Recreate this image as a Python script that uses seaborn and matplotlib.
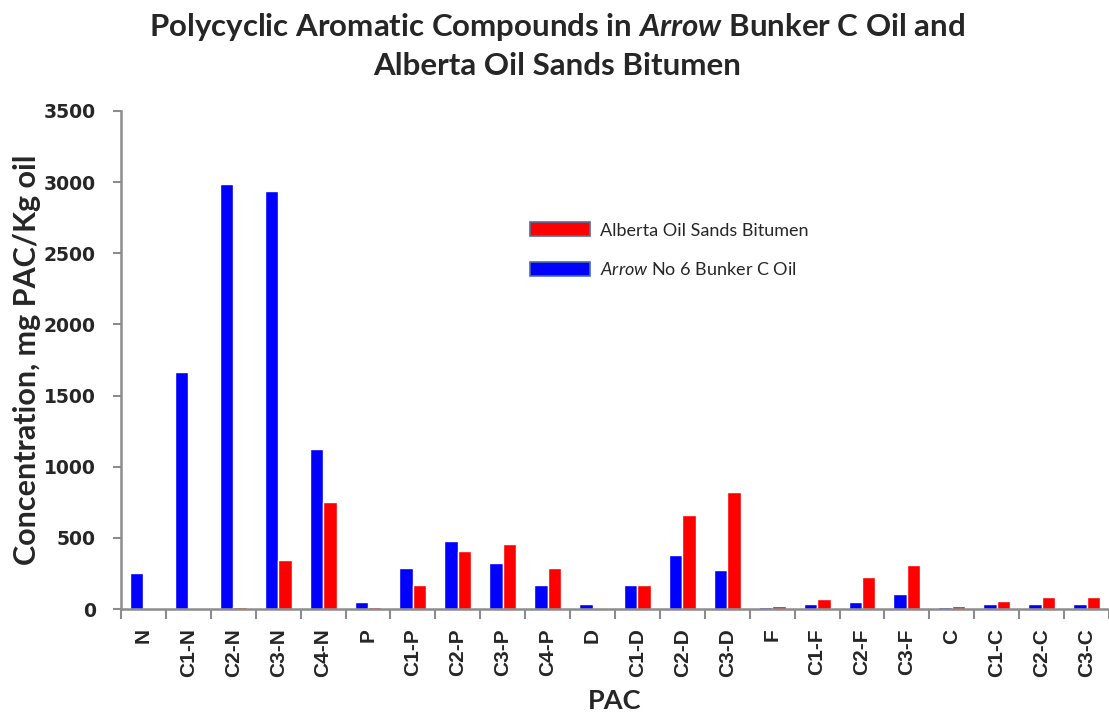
# Столбчатая диаграмма: PAC в нефти Arrow и битуме Alberta
import pandas as pd
from matplotlib import pyplot as plt
from matplotlib.ticker import FixedLocator
import seaborn as sns

# Категории PAC
pac = ['N', 'C1-N', 'C2-N', 'C3-N', 'C4-N', 'P', 'C1-P', 'C2-P', 'C3-P', 'C4-P',
       'D', 'C1-D', 'C2-D', 'C3-D', 'F', 'C1-F', 'C2-F', 'C3-F',
       'C', 'C1-C', 'C2-C', 'C3-C']

# Arrow No 6 Bunker C Oil (синие столбцы)
arrow = [255, 1665, 2988, 2938, 1125, 50, 289, 480, 325, 172,
         38, 172, 378, 277, 16, 38, 52, 108, 16, 38, 38, 38]

# Alberta Oil Sands Bitumen (красные столбцы)
alberta = [0, 0, 16, 343, 750, 16, 172, 410, 460, 290,
           0, 172, 662, 820, 18, 72, 222, 312, 18, 54, 86, 86]

arrow_name = 'Arrow No 6 Bunker C Oil'
alberta_name = 'Alberta Oil Sands Bitumen'

df = pd.DataFrame({
    'PAC': pac * 2,
    'value': arrow + alberta,
    'series': [arrow_name] * len(pac) + [alberta_name] * len(pac),
})

sns.set_theme(style='white')
plt.rcParams['font.family'] = ['Lato', 'DejaVu Sans']
plt.rcParams['mathtext.fontset'] = 'custom'
plt.rcParams['mathtext.it'] = 'Lato:italic:bold'
plt.rcParams['mathtext.sf'] = 'Lato:italic'
plt.rcParams['mathtext.rm'] = 'Lato'

fig = plt.figure(figsize=(11.09, 7.16), dpi=100)
ax = fig.add_axes([0.1091, 0.1494, 0.8909, 0.6956])

sns.barplot(data=df, x='PAC', y='value', hue='series',
            hue_order=[arrow_name, alberta_name],
            palette=['#0000FF', '#FF0000'], width=0.6, gap=0,
            saturation=1, ax=ax)

ax.set_ylim(0, 3500)
ax.set_xlim(-0.5, len(pac) - 0.5)
ax.set_yticks(range(0, 3501, 500))

# Подписи делений
for lab in ax.get_yticklabels():
    lab.set_family('DejaVu Sans')
    lab.set_fontweight('bold')
    lab.set_fontsize(13.5)
ax.tick_params(axis='y', length=6, width=1.5, color='#8c8c8c', pad=12, left=True)
ax.tick_params(axis='x', which='major', length=0, pad=14)
ax.set_xticks(range(len(pac)))
ax.set_xticklabels(pac, rotation=90, family='Liberation Sans',
                   fontweight='bold', fontsize=15)
ax.xaxis.set_minor_locator(FixedLocator([i - 0.5 for i in range(len(pac) + 1)]))
ax.tick_params(axis='x', which='minor', length=7, width=1.5, color='#8c8c8c', bottom=True)

for side in ['top', 'right']:
    ax.spines[side].set_visible(False)
for side in ['left', 'bottom']:
    ax.spines[side].set_color('#8c8c8c')
    ax.spines[side].set_linewidth(1.8)

# Названия осей
ax.set_ylabel('Concentration, mg PAC/Kg oil', fontsize=22, fontweight='bold')
ax.yaxis.set_label_coords(-0.081, 0.5)
ax.set_xlabel('PAC', fontsize=19.5, fontweight='bold')
ax.xaxis.set_label_coords(0.5, -0.16)

# Заголовок
fig.text(0.502, 0.985,
         r'Polycyclic Aromatic Compounds in $\it{Arrow}$ Bunker C Oil and' + '\n'
         + 'Alberta Oil Sands Bitumen',
         ha='center', va='top', fontsize=22.5, fontweight='bold', linespacing=1.4)

# Легенда (порядок как на картинке: красный сверху)
handles, _ = ax.get_legend_handles_labels()
for h in handles:
    h.set_edgecolor('#4f6fa0')
    h.set_linewidth(1.2)
leg = ax.legend([handles[1], handles[0]],
                [alberta_name, r'$\mathsf{Arrow}$ No 6 Bunker C Oil'],
                loc='upper left', bbox_to_anchor=(0.398, 0.809),
                frameon=False, fontsize=13, handlelength=3.3, handleheight=0.8,
                handletextpad=0.55, labelspacing=1.25)

plt.savefig('out.png', dpi=100)
